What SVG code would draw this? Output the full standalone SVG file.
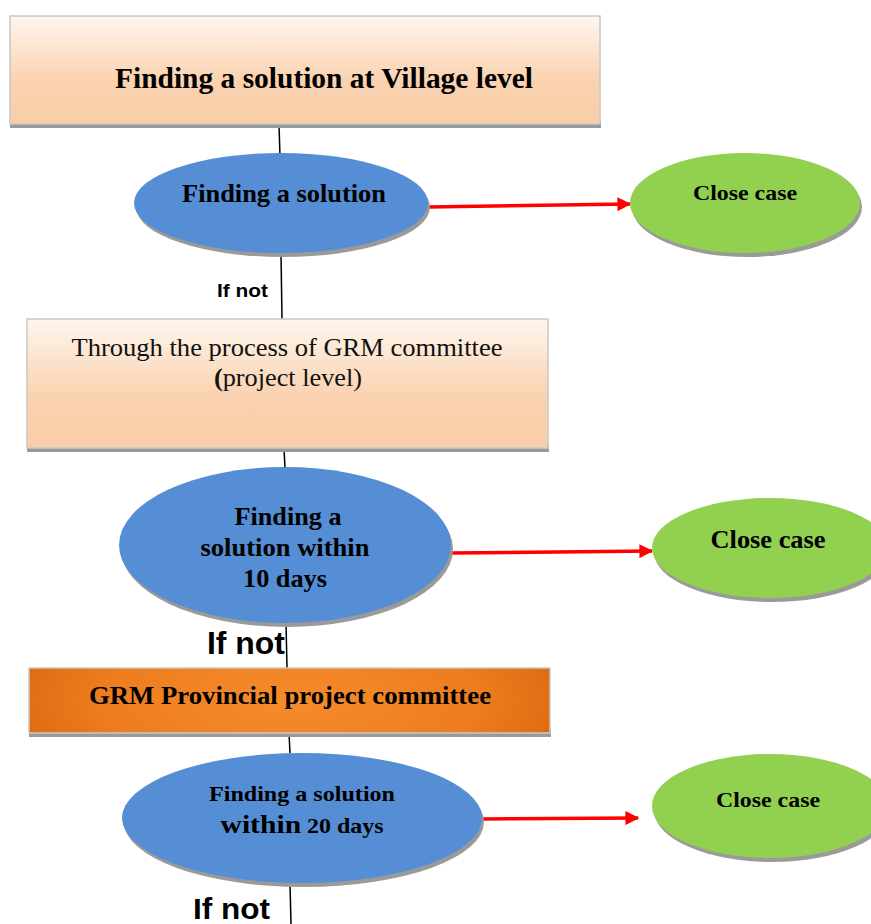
<svg xmlns="http://www.w3.org/2000/svg" width="871" height="924" viewBox="0 0 871 924">
<style>
.box{stroke:#c8c8c8;stroke-width:1.5}
.sh{fill:#9a9a9a}
.blue{fill:#558ed5}
.green{fill:#92d050}
.t{font-family:"Liberation Serif","Times New Roman",serif;font-weight:bold;fill:#000;text-anchor:middle}
.r{font-family:"Liberation Serif","Times New Roman",serif;fill:#111;text-anchor:middle}
.ifn{font-family:"Liberation Sans",Arial,sans-serif;font-weight:bold;fill:#000}
.ln{stroke:#000;stroke-width:1.5;fill:none}
.ar{stroke:#ff0000;stroke-width:3.5;fill:none}
</style>
<defs>
<linearGradient id="peach" x1="0" y1="0" x2="0" y2="1">
<stop offset="0" stop-color="#fef6ee"/>
<stop offset="0.6" stop-color="#fad2b0"/>
<stop offset="1" stop-color="#f9cda8"/>
</linearGradient>
<radialGradient id="orange" cx="0.5" cy="0.5" r="0.6" gradientTransform="translate(0.5 0.5) scale(1 3) translate(-0.5 -0.5)">
<stop offset="0" stop-color="#f68c2b"/>
<stop offset="0.6" stop-color="#ed7d1f"/>
<stop offset="1" stop-color="#d8640b"/>
</radialGradient>
<marker id="ah" viewBox="0 0 10 10" refX="9" refY="5" markerWidth="4.5" markerHeight="4" orient="auto" markerUnits="strokeWidth">
<path d="M0 0 L10 5 L0 10 z" fill="#ff0000"/>
</marker>
</defs>

<g id="connectors">
<line class="ln" x1="279" y1="125" x2="280" y2="156"/>
<line class="ln" x1="281" y1="253" x2="282" y2="319"/>
<line class="ln" x1="284" y1="449" x2="285" y2="468"/>
<line class="ln" x1="286" y1="623" x2="287" y2="668"/>
<line class="ln" x1="289" y1="733" x2="290" y2="753"/>
<line class="ln" x1="290" y1="884" x2="291" y2="924"/>
<line class="ar" x1="428" y1="207" x2="630" y2="204" marker-end="url(#ah)"/>
<line class="ar" x1="451" y1="553" x2="652" y2="551" marker-end="url(#ah)"/>
<line class="ar" x1="483" y1="819" x2="638" y2="818" marker-end="url(#ah)"/>
<text class="ifn" x="217" y="297" font-size="19" textLength="51" lengthAdjust="spacingAndGlyphs">If not</text>
<text class="ifn" x="207" y="654" font-size="31" textLength="78" lengthAdjust="spacingAndGlyphs">If not</text>
<text class="ifn" x="193" y="919" font-size="29" textLength="77" lengthAdjust="spacingAndGlyphs">If not</text>
</g>

<g id="village">
<rect class="sh" x="10" y="120" width="591" height="8"/>
<rect class="box" x="10" y="16" width="590" height="108" fill="url(#peach)"/>
<text class="t" x="324" y="88" font-size="30" textLength="418" lengthAdjust="spacingAndGlyphs">Finding a solution at Village level</text>
</g>

<g id="find1">
<ellipse class="sh" cx="283" cy="207" rx="147" ry="50"/>
<ellipse class="blue" cx="281" cy="203" rx="147" ry="50"/>
<text class="t" x="284" y="202" font-size="25" textLength="204" lengthAdjust="spacingAndGlyphs">Finding a solution</text>
</g>

<g id="close1">
<ellipse class="sh" cx="747" cy="207" rx="115" ry="50"/>
<ellipse class="green" cx="745" cy="203" rx="115" ry="50"/>
<text class="t" x="745" y="200" font-size="22" textLength="104" lengthAdjust="spacingAndGlyphs">Close case</text>
</g>

<g id="grm-project">
<rect class="sh" x="27" y="444" width="522" height="8"/>
<rect class="box" x="27" y="319" width="521" height="129" fill="url(#peach)"/>
<text class="r" x="287" y="356" font-size="25" textLength="431" lengthAdjust="spacingAndGlyphs">Through the process of GRM committee</text>
<text class="r" x="288" y="386" font-size="25" textLength="148" lengthAdjust="spacingAndGlyphs"><tspan font-weight="bold">(</tspan>project level)</text>
</g>

<g id="find2">
<ellipse class="sh" cx="287" cy="549" rx="166" ry="78"/>
<ellipse class="blue" cx="285" cy="545" rx="166" ry="78"/>
<text class="t" x="288" y="525" font-size="25" textLength="107" lengthAdjust="spacingAndGlyphs">Finding a</text>
<text class="t" x="285" y="556" font-size="25" textLength="169" lengthAdjust="spacingAndGlyphs">solution within</text>
<text class="t" x="285" y="587" font-size="25" textLength="84" lengthAdjust="spacingAndGlyphs">10 days</text>
</g>

<g id="close2">
<ellipse class="sh" cx="772" cy="552" rx="118" ry="50"/>
<ellipse class="green" cx="770" cy="548" rx="118" ry="50"/>
<text class="t" x="768" y="548" font-size="25" textLength="115" lengthAdjust="spacingAndGlyphs">Close case</text>
</g>

<g id="grm-provincial">
<rect class="sh" x="29" y="729" width="522" height="8"/>
<rect class="box" x="29" y="668" width="521" height="65" fill="url(#orange)"/>
<text class="t" x="290" y="704" font-size="25" fill="#111" textLength="402" lengthAdjust="spacingAndGlyphs">GRM Provincial project committee</text>
</g>

<g id="find3">
<ellipse class="sh" cx="304" cy="822" rx="180" ry="65"/>
<ellipse class="blue" cx="302" cy="818" rx="180" ry="65"/>
<text class="t" x="302" y="801" font-size="22" textLength="186" lengthAdjust="spacingAndGlyphs">Finding a solution</text>
<text class="t" x="302" y="833" textLength="163" lengthAdjust="spacingAndGlyphs"><tspan font-size="26">within</tspan><tspan font-size="21"> 20 days</tspan></text>
</g>

<g id="close3">
<ellipse class="sh" cx="772" cy="810" rx="118" ry="52"/>
<ellipse class="green" cx="770" cy="806" rx="118" ry="52"/>
<text class="t" x="768" y="807" font-size="22" textLength="104" lengthAdjust="spacingAndGlyphs">Close case</text>
</g>
</svg>
